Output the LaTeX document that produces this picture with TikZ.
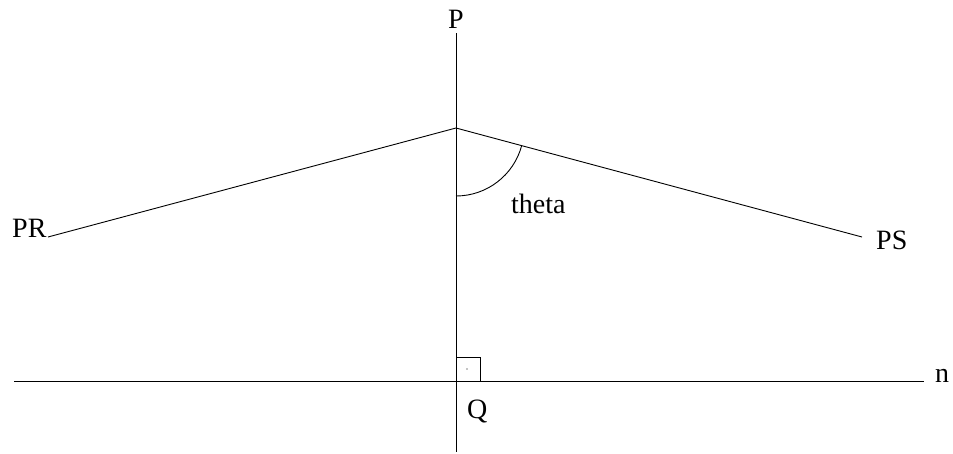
\documentclass[tikz,border=0pt]{standalone}
\usepackage{fontspec}
\setmainfont{Liberation Serif}
\usetikzlibrary{calc}
\begin{document}
\begin{tikzpicture}[x=1pt,y=-1pt,
  ln/.style={line width=0.9pt,black},
  lbl/.style={anchor=base west,inner sep=0pt,font=\fontsize{28}{31}\selectfont}]
\useasboundingbox (0,0) rectangle (953,453);
\coordinate (top) at (456,33);
\coordinate (bot) at (456,452);
\coordinate (apex) at (456,128);
\coordinate (rend) at (48,237);
\coordinate (send) at (862,237);
\coordinate (nl) at (14,381);
\coordinate (nr) at (924,381);
\coordinate (q) at (456,381);
\draw[ln] (top) -- (bot);
\draw[ln] (nl) -- (nr);
\draw[ln] (rend) -- (apex) -- (send);
\draw[ln] (q) rectangle ++(24,-24);
\fill (467,369) circle (0.6);
\draw[ln] ($(apex)+(0,68)$) arc[start angle=90,end angle=15,radius=68];
\node[lbl] (P) at (448,28) {P};
\node[lbl] (PR) at (12,237) {PR};
\node[lbl] (PS) at (876,249) {PS};
\node[lbl] (theta) at (511,213) {theta};
\node[lbl] (Q) at (467,418) {Q};
\node[lbl] (n) at (935,382) {n};
\end{tikzpicture}
\end{document}
